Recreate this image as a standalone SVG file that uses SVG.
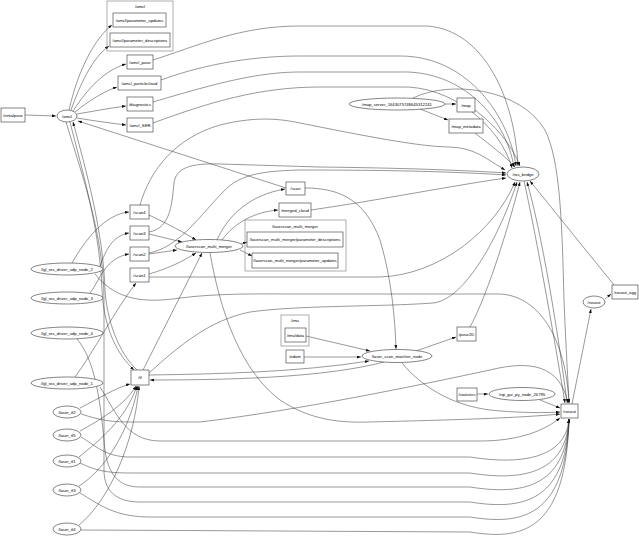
<svg xmlns="http://www.w3.org/2000/svg" width="639" height="556" viewBox="0 0 639 556">
<defs>
<marker id="a" markerWidth="4" markerHeight="3" refX="4" refY="1.5" orient="auto" markerUnits="userSpaceOnUse"><path d="M0,0 L4,1.5 L0,3 z" fill="#111"/></marker>
<style>
.n{fill:#fff;stroke:#333;stroke-width:0.6}
.c{fill:none;stroke:#777;stroke-width:0.6}
#edges path{fill:none;stroke:#333;stroke-width:0.5;marker-end:url(#a)}
text{font-family:"Liberation Sans",Arial,sans-serif;font-size:4.2px;text-anchor:middle;dominant-baseline:central;fill:#000}
</style>
</defs>
<rect width="639" height="556" fill="#fff"/>
<g id="edges">
<path d="M25,115 L56,116"/>
<path d="M69,110 C78,70 95,38 112,25"/>
<path d="M71,110 C80,85 92,58 109,46"/>
<path d="M73,111 C88,88 105,70 126,64"/>
<path d="M75,112 C90,100 103,92 117,87"/>
<path d="M77,114 C95,111 110,108 126,106"/>
<path d="M77,118 C95,121 110,123 126,125"/>
<path d="M153,60 C200,45 240,26 300,26 L427,26 C485,30 515,100 518,166"/>
<path d="M161,80 C210,62 260,56 300,56 L400,56 C470,56 510,120 516,166"/>
<path d="M153,102 C220,82 260,72 300,72 L400,72 C460,70 505,115 514,167"/>
<path d="M153,123 C210,102 260,87 320,87 L400,87 C450,85 500,125 512,168"/>
<path d="M445,104 L456,104"/>
<path d="M420,109 L448,120"/>
<path d="M475,110 C495,125 512,145 520,166"/>
<path d="M475,133 C490,145 505,156 515,167"/>
<path d="M413,98 C450,80 520,88 545,130 C560,160 562,220 564,300 C566,350 568,380 569,403"/>
<path d="M614,285 L530,181"/>
<path d="M605,299 L611,294"/>
<path d="M572,404 L591,309"/>
<path d="M540,400 L560,408"/>
<path d="M477,394 L488,394"/>
<path d="M524,181 C535,230 553,330 565,403"/>
<path d="M567,403 C558,330 541,230 527,182"/>
<path d="M311,210 C380,200 450,186 506,178"/>
<path d="M140,205 C150,170 175,138 220,125 C260,115 285,120 300,123 C360,135 420,147 450,147 C475,148 485,158 505,170"/>
<path d="M149,232 C172,228 172,200 174,183 C176,168 190,163 220,164 L320,167 C400,168 460,170 506,173"/>
<path d="M149,253 C180,247 200,215 225,190 C240,175 260,171 300,170 C400,170 460,172 506,175"/>
<path d="M149,277 L380,277 C440,275 495,230 515,182"/>
<path d="M149,373 C180,345 210,320 250,312 C300,305 380,307 433,303 C465,300 500,235 517,182"/>
<path d="M470,327 C485,300 505,240 520,182"/>
<path d="M416,351 L456,337"/>
<path d="M305,188 C340,188 365,200 380,240 C392,280 395,320 396,349"/>
<path d="M306,336 L370,351"/>
<path d="M304,357 L361,357"/>
<path d="M402,363 C420,385 450,405 490,410 C520,413 545,413 560,412"/>
<path d="M149,375 C220,374 300,372 369,361"/>
<path d="M384,362 C330,376 250,380 150,380"/>
<path d="M149,215 C170,225 185,233 196,240"/>
<path d="M149,234 L182,242"/>
<path d="M149,254 L177,250"/>
<path d="M149,274 C170,268 185,260 196,253"/>
<path d="M217,240 C228,215 250,195 285,189"/>
<path d="M222,240 C235,222 255,212 278,210"/>
<path d="M241,244 L247,242"/>
<path d="M240,250 L252,256"/>
<path d="M210,253 C220,310 240,370 280,400 C310,420 340,423 370,422 C450,420 520,418 560,414"/>
<path d="M143,370 L202,253"/>
<path d="M286,188 L78,121"/>
<path d="M70,122 C82,170 100,230 102,290 C104,330 118,355 134,370"/>
<path d="M137,370 C118,352 107,320 105,290 C103,230 86,170 73,122"/>
<path d="M66,122 C82,175 104,235 104,300 L104,470 C104,490 115,502 140,502 L470,502 C520,510 566,504 569,419"/>
<path d="M72,263 C85,240 105,214 129,212"/>
<path d="M100,266 C106,250 112,236 129,233"/>
<path d="M90,293 C100,280 105,258 129,254"/>
<path d="M75,377 C95,350 115,310 136,283"/>
<path d="M95,274 C112,295 135,305 180,298 C220,293 260,294 300,294 L500,294 C540,296 566,340 569,403"/>
<path d="M100,387 C115,410 125,441 160,441 L480,441 C520,441 545,430 560,418"/>
<path d="M81,414 C100,420 110,422 130,422 L200,422 C300,410 420,385 490,370 C530,360 560,365 568,403"/>
<path d="M81,437 C95,445 105,457 130,457 L470,457 C520,465 566,459 569,419"/>
<path d="M80,463 C95,470 105,473 130,473 L470,473 C520,481 566,475 569,419"/>
<path d="M77,339 C95,360 100,400 104,440 C106,470 115,487 140,487 L470,487 C520,495 566,489 569,419"/>
<path d="M80,493 C100,505 115,517 150,517 L470,517 C520,525 566,519 569,419"/>
<path d="M81,530 L470,532 C520,540 566,534 569,419"/>
<path d="M80,408 C100,398 115,388 130,384"/>
<path d="M80,431 C100,420 125,405 136,386"/>
<path d="M79,457 C100,440 125,420 137,386"/>
<path d="M79,486 C105,470 130,430 138,386"/>
<path d="M79,525 C110,500 135,440 139,386"/>
</g>
<g id="cluster_amcl"><rect class="c" x="107" y="1" width="66" height="50"/><text x="140" y="6">/amcl</text></g>
<g id="cluster_lmm"><rect class="c" x="245" y="220" width="101" height="51"/><text x="295" y="226">/laserscan_multi_merger</text></g>
<g id="cluster_imu"><rect class="c" x="281" y="315" width="28" height="31"/><text x="295" y="320">/imu</text></g>
<g id="initialpose"><rect class="n" x="1" y="108" width="24" height="14"/><text x="13" y="115">/initialpose</text></g>
<g id="amcl"><ellipse class="n" cx="67" cy="116" rx="10" ry="6"/><text x="67" y="116">/amcl</text></g>
<g id="amcl_param_updates"><rect class="n" x="113" y="13" width="53" height="14"/><text x="139.5" y="20">/amcl/parameter_updates</text></g>
<g id="amcl_param_desc"><rect class="n" x="110" y="33" width="60" height="14"/><text x="140" y="40">/amcl/parameter_descriptions</text></g>
<g id="amcl_pose"><rect class="n" x="127" y="55" width="26" height="14"/><text x="140" y="62">/amcl_pose</text></g>
<g id="amcl_particlecloud"><rect class="n" x="118" y="76" width="43" height="14"/><text x="139.5" y="83">/amcl_particlecloud</text></g>
<g id="diagnostics"><rect class="n" x="127" y="97" width="26" height="14"/><text x="140" y="104">/diagnostics</text></g>
<g id="amcl_SER"><rect class="n" x="127" y="118" width="26" height="14"/><text x="140" y="125">/amcl_SER</text></g>
<g id="map_server"><ellipse class="n" cx="397" cy="104" rx="48" ry="6"/><text x="397" y="104">/map_server_1643075748645312241</text></g>
<g id="map"><rect class="n" x="457" y="98" width="18" height="14"/><text x="466" y="105">/map</text></g>
<g id="map_metadata"><rect class="n" x="449" y="119" width="34" height="14"/><text x="466" y="126">/map_metadata</text></g>
<g id="ros_bridge"><ellipse class="n" cx="523" cy="174" rx="16" ry="7"/><text x="523" y="174">/ros_bridge</text></g>
<g id="rosout_agg"><rect class="n" x="612" y="285" width="26" height="14"/><text x="625" y="292">/rosout_agg</text></g>
<g id="rosout_node"><ellipse class="n" cx="594" cy="302" rx="11" ry="6"/><text x="594" y="302">/rosout</text></g>
<g id="rosout_topic"><rect class="n" x="561" y="404" width="17" height="14"/><text x="569.5" y="411">/rosout</text></g>
<g id="rqt_gui"><ellipse class="n" cx="522" cy="394" rx="33" ry="6.5"/><text x="522" y="394">/rqt_gui_py_node_26795</text></g>
<g id="statistics"><rect class="n" x="457" y="388" width="20" height="13"/><text x="467" y="394.5">/statistics</text></g>
<g id="pose2D"><rect class="n" x="457" y="327" width="19" height="14"/><text x="466.5" y="334">/pose2D</text></g>
<g id="laser_scan_matcher"><ellipse class="n" cx="397" cy="356" rx="35" ry="6.5"/><text x="397" y="356">/laser_scan_matcher_node</text></g>
<g id="imu_data"><rect class="n" x="285" y="328" width="21" height="14"/><text x="295.5" y="335">/imu/data</text></g>
<g id="odom"><rect class="n" x="286" y="350" width="18" height="13"/><text x="295" y="356.5">/odom</text></g>
<g id="scan"><rect class="n" x="286" y="182" width="19" height="13"/><text x="295.5" y="188.5">/scan</text></g>
<g id="merged_cloud"><rect class="n" x="279" y="203" width="32" height="14"/><text x="295" y="210">/merged_cloud</text></g>
<g id="lmm_param_desc"><rect class="n" x="247" y="232" width="96" height="15"/><text x="295" y="239.5">/laserscan_multi_merger/parameter_descriptions</text></g>
<g id="lmm_param_updates"><rect class="n" x="252" y="253" width="86" height="15"/><text x="295" y="260.5">/laserscan_multi_merger/parameter_updates</text></g>
<g id="laserscan_multi_merger"><ellipse class="n" cx="209" cy="246" rx="34" ry="6.5"/><text x="209" y="246">/laserscan_multi_merger</text></g>
<g id="scan4"><rect class="n" x="130" y="205" width="19" height="14"/><text x="139.5" y="212">/scan4</text></g>
<g id="scan3"><rect class="n" x="130" y="226" width="19" height="14"/><text x="139.5" y="233">/scan3</text></g>
<g id="scan2"><rect class="n" x="130" y="247" width="19" height="14"/><text x="139.5" y="254">/scan2</text></g>
<g id="scan1"><rect class="n" x="130" y="268" width="19" height="14"/><text x="139.5" y="275">/scan1</text></g>
<g id="tf"><rect class="n" x="131" y="370" width="18" height="15"/><text x="140" y="377.5">/tf</text></g>
<g id="lgl_2"><ellipse class="n" cx="67" cy="269" rx="36" ry="6"/><text x="67" y="269">/lgl_ros_driver_udp_node_2</text></g>
<g id="lgl_3"><ellipse class="n" cx="67" cy="298" rx="36" ry="6"/><text x="67" y="298">/lgl_ros_driver_udp_node_3</text></g>
<g id="lgl_4"><ellipse class="n" cx="67" cy="333" rx="36" ry="6"/><text x="67" y="333">/lgl_ros_driver_udp_node_4</text></g>
<g id="lgl_1"><ellipse class="n" cx="67" cy="383" rx="36" ry="6"/><text x="67" y="383">/lgl_ros_driver_udp_node_1</text></g>
<g id="laser_tf2"><ellipse class="n" cx="67" cy="412" rx="14" ry="6"/><text x="67" y="412">/laser_tf2</text></g>
<g id="laser_tf5"><ellipse class="n" cx="67" cy="435" rx="14" ry="6"/><text x="67" y="435">/laser_tf5</text></g>
<g id="laser_tf1"><ellipse class="n" cx="67" cy="461" rx="14" ry="6"/><text x="67" y="461">/laser_tf1</text></g>
<g id="laser_tf3"><ellipse class="n" cx="67" cy="490" rx="14" ry="6"/><text x="67" y="490">/laser_tf3</text></g>
<g id="laser_tf4"><ellipse class="n" cx="67" cy="529" rx="14" ry="6"/><text x="67" y="529">/laser_tf4</text></g>
</svg>
